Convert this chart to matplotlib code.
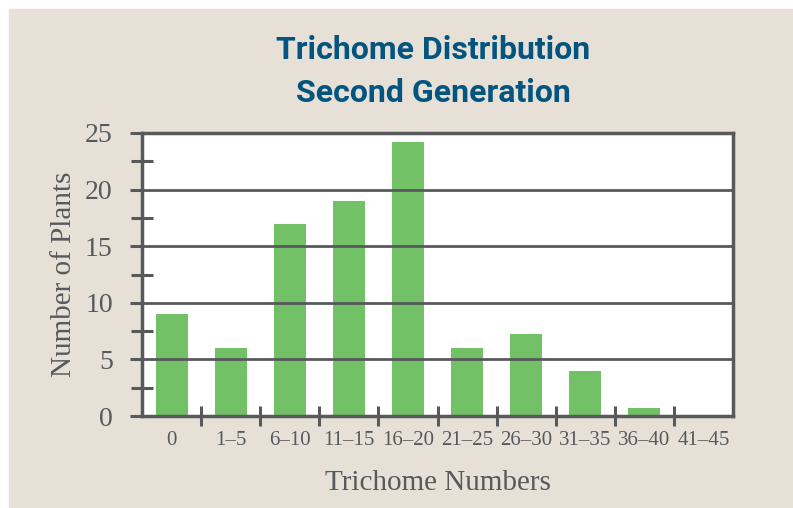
import matplotlib.pyplot as plt
import matplotlib.patches as mpatches
import numpy as np

# data
categories = ['0', '1–5', '6–10', '11–15', '16–20', '21–25', '26–30', '31–35', '36–40', '41–45']
plants = [9, 6, 17, 19, 24.2, 6, 7.2, 4, 0.7, 0]
y_ticks = [0, 5, 10, 15, 20, 25]

bg = '#e6e0d6'
ink = '#58595b'
bar_green = '#73c167'
title_blue = '#03557f'
serif = ['Liberation Serif', 'DejaVu Serif']
title_font = ['Roboto', 'DejaVu Sans']

fig = plt.figure(figsize=(7.93, 5.08), dpi=100, facecolor='white')
# beige panel, leaving a thin white strip at the top and left
fig.patches.append(mpatches.Rectangle((9 / 793, 0), 1, (508 - 9) / 508,
                                      transform=fig.transFigure, color=bg, zorder=-10))

ax = fig.add_axes([142 / 793, (508 - 416) / 508, (733 - 142) / 793, (416 - 133) / 508])
ax.set_facecolor('white')

x = np.arange(len(categories))
ax.bar(x, plants, width=0.54, color=bar_green, zorder=2)

ax.set_xlim(-0.5, len(categories) - 0.5)
ax.set_ylim(0, 25)

# horizontal gridlines
for v in y_ticks[1:-1]:
    ax.axhline(v, color=ink, lw=2, zorder=3)

for s in ax.spines.values():
    s.set_color(ink)
    s.set_linewidth(2.5)
    s.set_zorder(4)

# y ticks: major out, minor crossing the spine
ax.set_yticks(y_ticks)
ax.set_yticks([2.5, 7.5, 12.5, 17.5, 22.5], minor=True)
ax.tick_params(axis='y', which='major', direction='out', length=9, width=2.2, color=ink,
               labelsize=20, labelcolor=ink, pad=12)
ax.tick_params(axis='y', which='minor', direction='inout', length=16, width=2.2, color=ink)

# x ticks: between categories, labels centred under bars
ax.set_xticks(x[:-1] + 0.5)
ax.set_xticklabels([])
ax.set_xticks(x, minor=True)
ax.set_xticklabels(categories, minor=True)
ax.tick_params(axis='x', which='major', direction='inout', length=15, width=2.2, color=ink)
ax.tick_params(axis='x', which='minor', length=0, labelsize=15, labelcolor=ink, pad=11)

for lab in ax.get_xticklabels(minor=True) + ax.get_yticklabels():
    lab.set_family(serif)

ax.set_xlabel('Trichome Numbers', family=serif, fontsize=21, color=ink, labelpad=14)
ax.set_ylabel('Number of Plants', family=serif, fontsize=21, color=ink, labelpad=6)

fig.text(433 / 793, 1 - 50 / 508, 'Trichome Distribution', ha='center', va='center',
         family=title_font, fontweight='bold', fontsize=23, color=title_blue)
fig.text(433 / 793, 1 - 93 / 508, 'Second Generation', ha='center', va='center',
         family=title_font, fontweight='bold', fontsize=23, color=title_blue)

fig.savefig('out.png', dpi=100, facecolor='white')
